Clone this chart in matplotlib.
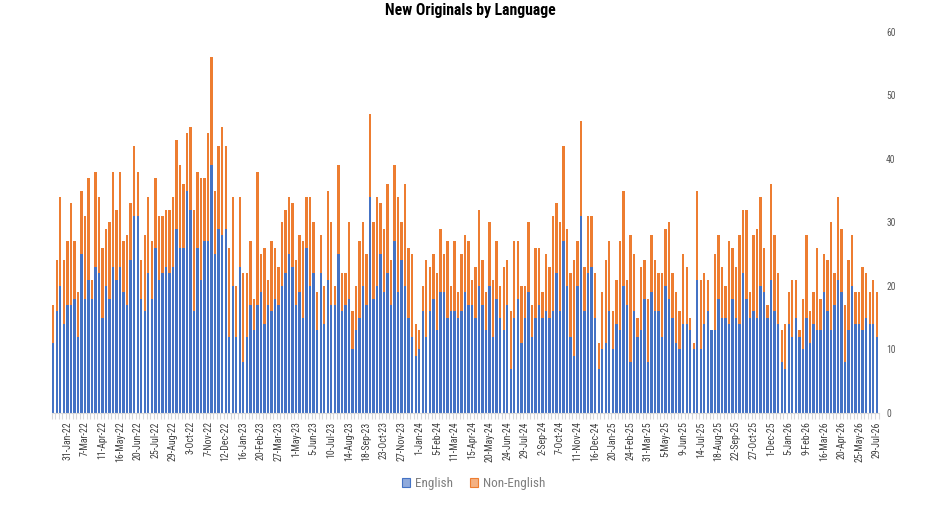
import matplotlib
matplotlib.use("Agg")
import matplotlib.pyplot as plt
from matplotlib.font_manager import fontManager
from matplotlib.patches import Patch

# ---------------- data ----------------
english = [11,16,20,14,17,17,18,12,25,18,21,18,23,22,15,20,18,23,21,23,19,17,24,31,31,18,16,22,18,26,
           21,22,23,22,23,29,26,26,35,32,16,26,21,27,27,39,25,29,28,29,12,20,12,23,8,12,17,13,17,19,
           14,17,16,18,17,20,22,25,23,17,19,15,26,20,22,13,22,14,21,17,17,25,16,17,18,10,13,15,20,17,
           34,18,20,25,19,22,17,27,19,24,20,15,12,9,10,16,12,16,18,13,19,19,15,16,16,15,16,19,17,17,
           15,20,17,13,20,12,18,15,13,17,7,15,18,11,15,19,12,15,17,15,16,15,16,22,16,27,20,12,9,20,
           31,16,22,23,15,7,10,11,16,10,14,13,20,17,8,16,12,13,18,8,19,16,16,12,20,18,15,11,10,14,
           14,13,10,21,10,14,16,13,13,18,15,15,14,18,15,14,22,18,15,16,15,20,19,15,21,16,14,8,7,14,
           12,15,12,10,15,11,14,13,13,19,16,13,17,21,19,8,13,20,14,14,13,15,14,14,12]
non_english = [6,8,14,10,10,16,9,7,10,13,16,3,15,12,11,9,12,15,11,15,8,11,9,11,7,6,12,12,9,11,
               10,9,9,10,11,14,13,10,9,13,16,12,16,10,17,17,10,13,17,13,14,14,8,11,14,10,10,5,21,6,
               12,4,11,8,6,10,10,9,10,7,9,12,8,14,8,6,6,6,14,13,3,14,6,5,12,6,7,12,10,8,
               13,12,14,8,10,14,7,12,15,6,16,11,13,5,3,4,12,7,7,9,10,6,12,4,11,4,9,9,10,4,
               8,12,7,6,10,9,9,5,10,7,9,12,9,9,5,11,5,11,9,4,9,8,15,11,14,15,9,10,15,7,
               15,7,9,8,7,4,9,13,11,6,7,14,15,4,20,9,3,10,6,10,9,8,6,10,9,12,7,8,6,11,
               9,2,1,14,11,8,5,0,12,10,8,5,13,8,8,14,10,14,4,12,14,14,7,2,15,12,8,5,7,5,
               9,6,1,8,13,5,5,13,5,6,8,17,5,13,10,9,11,8,5,5,10,7,5,7,7]
tick_labels = ["31-Jan-22","7-Mar-22","11-Apr-22","16-May-22","20-Jun-22","25-Jul-22","29-Aug-22",
               "3-Oct-22","7-Nov-22","12-Dec-22","16-Jan-23","20-Feb-23","27-Mar-23","1-May-23",
               "5-Jun-23","10-Jul-23","14-Aug-23","18-Sep-23","23-Oct-23","27-Nov-23","1-Jan-24",
               "5-Feb-24","11-Mar-24","15-Apr-24","20-May-24","24-Jun-24","29-Jul-24","2-Sep-24",
               "7-Oct-24","11-Nov-24","16-Dec-24","20-Jan-25","24-Feb-25","31-Mar-25","5-May-25",
               "9-Jun-25","14-Jul-25","18-Aug-25","22-Sep-25","27-Oct-25","1-Dec-25","5-Jan-26",
               "9-Feb-26","16-Mar-26","20-Apr-26","25-May-26","29-Jul-26"]
series_names = ["English", "Non-English"]
title = "New Originals by Language"

# ---------------- font choice (prefer a condensed face) ----------------
names = {f.name for f in fontManager.ttflist}
fam, stretch = None, "normal"
for cand in ["Liberation Sans Narrow", "Roboto Condensed", "DejaVu Sans Condensed",
             "Open Sans Condensed", "Noto Sans Condensed"]:
    if cand in names:
        fam = cand
        break
if fam is None:
    for pref in ["DejaVu Sans", "Noto Sans", "Open Sans", "Roboto", "Liberation Sans", "Lato", "Inter"]:
        if any(f.name == pref and str(f.stretch) not in ("normal", "500") for f in fontManager.ttflist):
            fam, stretch = pref, "condensed"
            break
if fam is None:
    fam = "Roboto" if "Roboto" in names else "DejaVu Sans"
plt.rcParams['font.family'] = [fam, "DejaVu Sans"]
plt.rcParams['font.stretch'] = stretch

BLUE = "#4472C4"
ORANGE = "#ED7D31"

fig = plt.figure(figsize=(9.5, 5.22), dpi=100)
ax = fig.add_axes([51.5/950, 1-413/522, 827/950, (413-31.7)/522])

x = list(range(len(english)))
ax.bar(x, english, width=0.68, color=BLUE, linewidth=0)
ax.bar(x, non_english, width=0.68, bottom=english, color=ORANGE, linewidth=0)

ax.set_xlim(-0.5, len(english)-0.5)
ax.set_ylim(0, 60)
ax.yaxis.tick_right()
ax.set_yticks(range(0, 61, 10))
ax.tick_params(axis='y', length=0, labelsize=7, labelcolor="#595959", pad=5.5)

ax.set_xticks(list(range(4, len(english), 5)))
ax.set_xticklabels(tick_labels, rotation=90, fontsize=8, color="#404040")
ax.set_xticks([i + 0.5 for i in range(-1, len(english))], minor=True)
ax.tick_params(axis='x', which='major', length=0, pad=6)
ax.tick_params(axis='x', which='minor', length=4, color="#D9D9D9", width=0.8)

for s in ['top', 'left', 'right']:
    ax.spines[s].set_visible(False)
ax.spines['bottom'].set_color("#D9D9D9")
ax.spines['bottom'].set_linewidth(0.8)

ttl = fig.text(470/950, 1-11/522, title, ha='center', va='center',
               fontsize=11, fontweight='bold', color="black")

handles = [Patch(facecolor="#8FAADC", edgecolor=BLUE, linewidth=0.8),
           Patch(facecolor="#F4B183", edgecolor=ORANGE, linewidth=0.8)]
leg = fig.legend(handles, series_names, loc='center', bbox_to_anchor=(474/950, 1-484/522),
                 ncol=2, frameon=False, fontsize=10, handlelength=0.55, handleheight=0.55,
                 columnspacing=1.2, handletextpad=0.4, labelcolor="#7F7F7F")

# ---------------- fit text sizes to the reference's pixel sizes ----------------
fig.canvas.draw()
r = fig.canvas.get_renderer()
w = ttl.get_window_extent(r).width
ttl.set_fontsize(11 * 170 / w)

lab = ax.get_xticklabels()[24]  # "20-May-24"
h = lab.get_window_extent(r).height
tsize = 8 * 41 / h
for t in ax.get_xticklabels():
    t.set_fontsize(tsize)

ytl = ax.get_yticklabels()[-1]  # "60"
yw = ytl.get_window_extent(r).width
ax.tick_params(axis='y', labelsize=7 * 9.5 / yw)

lt = leg.get_texts()[1]
lw = lt.get_window_extent(r).width
for t in leg.get_texts():
    t.set_fontsize(10 * 62 / lw)

fig.savefig("out.png", dpi=100)
